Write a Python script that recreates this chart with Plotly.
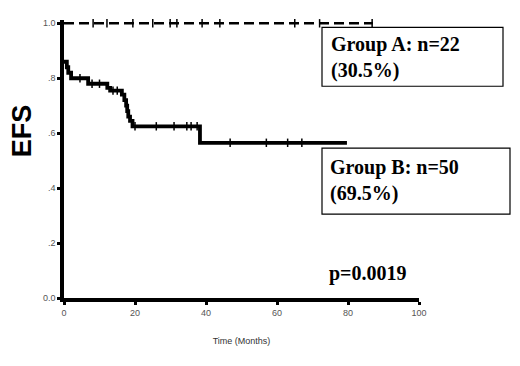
import plotly.graph_objects as go

# ---- data ----
group_a_time = [0, 87]
group_a_surv = [1.0, 1.0]
group_a_censor_t = [8.2, 12.1, 19.4, 25.0, 29.9, 31.8, 38.9, 43.9, 65.0, 72.0, 86.8]

group_b_time = [0, 0.8, 1.2, 2.0, 6.8, 12.2, 13.0, 16.3, 17.0, 17.5, 17.8, 18.1, 18.6, 19.3, 38.3, 79.7]
group_b_surv = [0.86, 0.84, 0.82, 0.80, 0.78, 0.765, 0.755, 0.74, 0.72, 0.70, 0.68, 0.66, 0.645, 0.625, 0.565, 0.565]
group_b_censor_t = [4.5, 7.9, 10.0, 13.8, 15.0, 20.0, 26.0, 31.0, 34.6, 35.8, 37.5, 46.8, 57.0, 63.0, 67.0]

x_ticks = [0, 20, 40, 60, 80, 100]
y_ticks = [0.0, 0.2, 0.4, 0.6, 0.8, 1.0]
y_tick_labels = ["0.0", ".2", ".4", ".6", ".8", "1.0"]


def surv_at(times, survs, t):
    s = survs[0]
    for ti, si in zip(times, survs):
        if ti <= t:
            s = si
    return s


fig = go.Figure()

# Group A (dashed at 1.0)
fig.add_trace(go.Scatter(
    x=group_a_time, y=group_a_surv, mode="lines",
    line=dict(color="black", width=2.4, dash="10px,5px"),
    cliponaxis=False, showlegend=False, hoverinfo="skip"))
fig.add_trace(go.Scatter(
    x=group_a_censor_t, y=[1.0] * len(group_a_censor_t), mode="markers",
    marker=dict(symbol="line-ns", size=6, line=dict(color="black", width=1.5)),
    cliponaxis=False, showlegend=False, hoverinfo="skip"))

# Group B (solid step)
fig.add_trace(go.Scatter(
    x=group_b_time, y=group_b_surv, mode="lines", line_shape="hv",
    line=dict(color="black", width=3.8),
    cliponaxis=False, showlegend=False, hoverinfo="skip"))
fig.add_trace(go.Scatter(
    x=group_b_censor_t,
    y=[surv_at(group_b_time, group_b_surv, t) for t in group_b_censor_t],
    mode="markers",
    marker=dict(symbol="line-ns", size=6, line=dict(color="black", width=1.5)),
    cliponaxis=False, showlegend=False, hoverinfo="skip"))

tickfont = dict(family="Arial, Liberation Sans, sans-serif", size=9, color="#555555")

Y_TOP = 1.012

fig.update_xaxes(
    range=[0, 100], tickvals=x_ticks, ticktext=[str(v) for v in x_ticks],
    showline=True, linecolor="black", linewidth=3.5, ticks="outside",
    ticklen=3, tickwidth=3, tickcolor="black", showgrid=False, zeroline=False,
    tickfont=tickfont,
    title=dict(text="Time (Months)", font=dict(family="Arial, Liberation Sans, sans-serif", size=9, color="#333333"), standoff=22))
fig.update_yaxes(
    range=[0, Y_TOP], tickvals=y_ticks, ticktext=y_tick_labels,
    showline=True, linecolor="black", linewidth=3.5, ticks="outside",
    ticklen=3, tickwidth=3, tickcolor="black", showgrid=False, zeroline=False,
    tickfont=tickfont)

# layout geometry (pixels)
W, H = 520, 366
L, R, B = 64, 419, 298
T1 = 23  # pixel of y = 1.0
T = B - (B - T1) * Y_TOP


def px(x):
    return (x - L) / (R - L)


def py(y):
    return (B - y) / (B - T)


shapes = [
    dict(type="rect", xref="paper", yref="paper", x0=px(322), x1=px(503), y0=py(86), y1=py(27),
         line=dict(color="black", width=1.2), fillcolor="white", layer="above"),
    dict(type="rect", xref="paper", yref="paper", x0=px(322), x1=px(510), y0=py(214), y1=py(148),
         line=dict(color="black", width=1.2), fillcolor="white", layer="above"),
]

serif = dict(family="Liberation Serif, Times New Roman, serif", size=20, color="black")
annotations = [
    dict(xref="paper", yref="paper", x=px(329), y=py(57), xanchor="left", yanchor="middle",
         text="<b>Group A: n=22<br>(30.5%)</b>", align="left", showarrow=False, font=serif),
    dict(xref="paper", yref="paper", x=px(328), y=py(180), xanchor="left", yanchor="middle",
         text="<b>Group B: n=50<br>(69.5%)</b>", align="left", showarrow=False, font=serif),
    dict(xref="paper", yref="paper", x=px(327), y=py(273), xanchor="left", yanchor="middle",
         text="<b>p=0.0019</b>", showarrow=False, font=serif),
    dict(xref="paper", yref="paper", x=px(22), y=py(131), xanchor="center", yanchor="middle",
         text="<b>EFS</b>", textangle=-90, showarrow=False,
         font=dict(family="Arial, Liberation Sans, sans-serif", size=27, color="black")),
]

fig.update_layout(
    width=W, height=H,
    margin=dict(l=L, r=W - R, t=T, b=H - B),
    paper_bgcolor="white", plot_bgcolor="white",
    shapes=shapes, annotations=annotations,
)

fig.write_html("out.html", config={"displayModeBar": False},
               post_script="document.body.style.margin='0';document.body.style.padding='0';")
